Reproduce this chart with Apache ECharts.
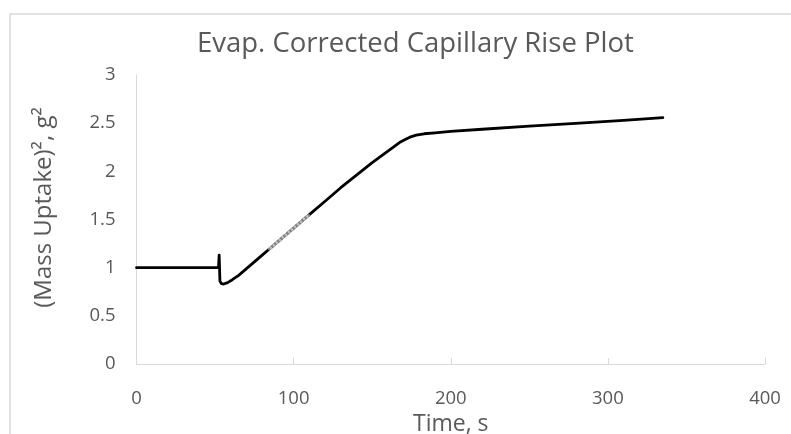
<!DOCTYPE html>
<html>
<head>
<meta charset="utf-8">
<script src="https://cdn.jsdelivr.net/npm/echarts@6/dist/echarts.min.js"></script>
<style>
  html, body { margin: 0; padding: 0; background: #ffffff; }
  #chart { width: 791px; height: 434px; }
</style>
</head>
<body>
<div id="chart"></div>
<script>
// Elapsed time (s) and evaporation-corrected squared mass uptake (g^2)
var timeS = [0, 10, 20, 30, 40, 50, 52.2, 52.6, 53.1, 54, 55.5, 58, 61, 65, 70, 75, 80, 84, 90, 100, 110,
             120, 130, 140, 150, 160, 165, 168, 171, 174, 178, 183, 190, 200, 220, 250, 282, 310, 335];
var massSq = [1.0, 1.0, 1.0, 1.0, 1.0, 1.0, 1.0, 1.13, 0.86, 0.835, 0.83, 0.845, 0.875, 0.92, 0.99, 1.06, 1.13, 1.186, 1.27, 1.41, 1.55,
              1.69, 1.83, 1.96, 2.09, 2.21, 2.27, 2.305, 2.33, 2.355, 2.375, 2.39, 2.40, 2.415, 2.437, 2.47, 2.50, 2.53, 2.557];

// Segment of the run drawn in grey (fitting window)
var fitTime = [84, 90, 100, 110];
var fitMassSq = [1.186, 1.27, 1.41, 1.55];

// Axis ticks
var xTicks = [0, 100, 200, 300, 400];
var yTicks = [0, 0.5, 1, 1.5, 2, 2.5, 3];

function pairs(xs, ys) {
  return xs.map(function (x, i) { return [x, ys[i]]; });
}

var textColor = '#595959';
var gridColor = '#d9d9d9';
var font = 'Open Sans';

var chart = echarts.init(document.getElementById('chart'), null, { renderer: 'canvas' });
chart.setOption({
  animation: false,
  backgroundColor: '#ffffff',
  title: {
    text: 'Evap. Corrected Capillary Rise Plot',
    left: 192,
    top: 25,
    textStyle: { color: textColor, fontFamily: font, fontSize: 27.5, fontWeight: 'normal' }
  },
  graphic: [{
    type: 'rect',
    shape: { x: 10, y: 14, width: 800, height: 440 },
    style: { fill: 'none', stroke: gridColor, lineWidth: 1.5 },
    silent: true
  }],
  grid: { left: 136.5, right: 26, top: 75, bottom: 70, outerBoundsMode: 'none', containLabel: false },
  xAxis: {
    type: 'value',
    min: xTicks[0],
    max: xTicks[xTicks.length - 1],
    interval: xTicks[1] - xTicks[0],
    name: 'Time, s',
    nameLocation: 'middle',
    nameGap: 40,
    nameTextStyle: { color: textColor, fontFamily: font, fontSize: 23 },
    axisLine: { show: true, lineStyle: { color: gridColor, width: 1 } },
    axisTick: { show: true, inside: true, length: 6, lineStyle: { color: gridColor } },
    axisLabel: { color: textColor, fontFamily: font, fontSize: 18.5, margin: 25 },
    splitLine: { show: false }
  },
  yAxis: {
    type: 'value',
    min: yTicks[0],
    max: yTicks[yTicks.length - 1],
    interval: yTicks[1] - yTicks[0],
    name: '(Mass Uptake)², g²',
    nameLocation: 'middle',
    nameRotate: 90,
    nameGap: 80,
    nameTextStyle: { color: textColor, fontFamily: font, fontSize: 24, padding: [0, 0, 0, 24] },
    axisLine: { show: true, lineStyle: { color: gridColor, width: 1 } },
    axisTick: { show: false },
    axisLabel: { color: textColor, fontFamily: font, fontSize: 18.5, margin: 21 },
    splitLine: { show: false }
  },
  series: [
    {
      type: 'line',
      data: pairs(timeS, massSq),
      showSymbol: false,
      lineStyle: { color: '#000000', width: 2.8, cap: 'round', join: 'round' },
      z: 2
    },
    {
      type: 'line',
      data: pairs(fitTime, fitMassSq),
      showSymbol: false,
      lineStyle: { color: '#c4c4c4', width: 2.8 },
      z: 3
    },
    {
      type: 'line',
      data: pairs(fitTime, fitMassSq),
      showSymbol: false,
      lineStyle: { color: '#808080', width: 2.8, type: [2, 2] },
      z: 4
    }
  ]
});
</script>
</body>
</html>
